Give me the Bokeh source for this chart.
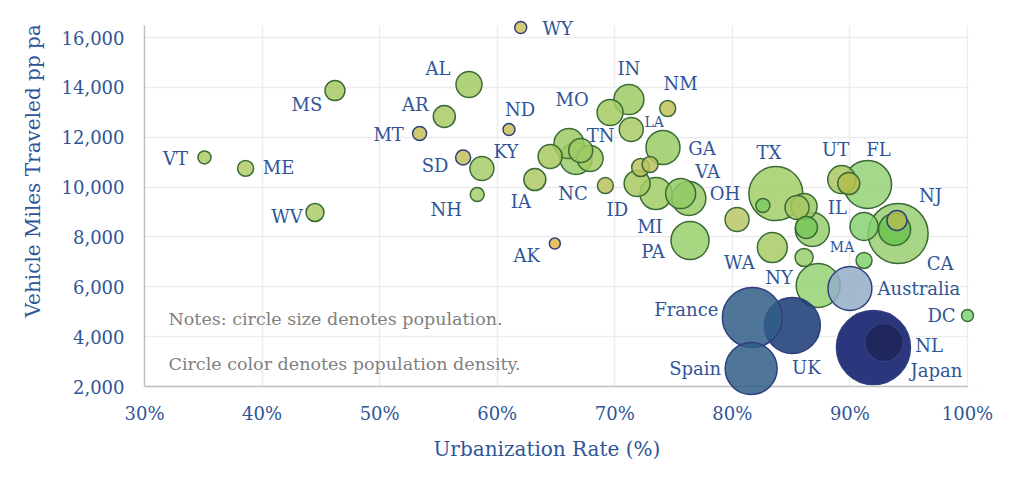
import pandas as pd
from bokeh.plotting import figure
from bokeh.models import (ColumnDataSource, FixedTicker, NumeralTickFormatter,
                          PrintfTickFormatter, BoxAnnotation, Label, Title, Grid)
from bokeh.core.properties import value
from bokeh.embed import file_html
from bokeh.resources import INLINE

# ---------------------------------------------------------------------------
# Data: urbanization rate (%), vehicle miles travelled per person per year,
# population (millions, drives bubble size)
# ---------------------------------------------------------------------------
names = ["VT", "ME", "MS", "WV", "WY", "AL", "AR", "MT", "ND", "SD",
         "KY", "NH", "IA", "AK", "SC", "MN", "NC", "TN", "OK", "ID",
         "MO", "IN", "LA", "NM", "GA", "NE", "KS", "WI", "MI", "VA",
         "OH", "PA", "OR", "TX", "DE", "CO", "MD", "IL", "CT", "WA",
         "HI", "NY", "UT", "AZ", "FL", "MA", "CA", "NJ", "NV", "RI",
         "DC",
         "Japan", "NL", "UK", "France", "Spain", "Australia"]
urban_pct = [35.1, 38.6, 46.2, 44.5, 62.0, 57.6, 55.5, 53.4, 61.0, 57.1,
             58.7, 58.3, 63.2, 64.9, 64.5, 66.1, 66.7, 67.1, 67.9, 69.2,
             69.6, 71.2, 71.4, 74.5, 74.1, 72.2, 73.0, 71.9, 73.5, 75.6,
             76.3, 76.4, 80.4, 83.7, 82.6, 85.5, 86.1, 86.8, 86.3, 83.4,
             86.1, 87.3, 89.3, 89.9, 91.5, 91.2, 94.1, 93.8, 94.0, 91.2,
             100.0,
             92.0, 92.9, 85.1, 81.7, 81.6, 90.0]
vmt_pp = [11190, 10750, 13870, 8980, 16400, 14115, 12830, 12150, 12310, 11185,
          10745, 9700, 10300, 7735, 11225, 11745, 11145, 11465, 11145, 10060,
          12990, 13510, 12310, 13150, 11585, 10785, 10905, 10140, 9740, 9740,
          9540, 7855, 8700, 9740, 9260, 9180, 9220, 8300, 8380, 7575,
          7175, 6050, 10300, 10140, 10100, 8420, 8135, 8300, 8660, 7055,
          4850,
          3565, 3765, 4450, 4770, 2720, 5930]
pop_m = [0.77, 1.30, 2.27, 1.75, 0.63, 4.38, 2.89, 0.93, 0.63, 1.11,
         3.59, 0.93, 2.89, 0.51, 3.59, 6.26, 7.36, 3.59, 4.38, 1.30,
         4.38, 6.26, 3.59, 1.30, 8.57, 1.75, 1.30, 4.38, 7.36, 6.26,
         8.57, 11.31, 3.59, 27.2, 0.93, 3.59, 4.38, 8.57, 2.89, 6.26,
         1.75, 16.3, 5.27, 2.89, 20.3, 5.27, 35.4, 7.36, 2.27, 1.30,
         0.63,
         59.9, 11.3, 29.8, 35.4, 24.8, 16.3]
group = ["state"] * 51 + ["country"] * 6

x_ticks = [30, 40, 50, 60, 70, 80, 90, 100]
y_ticks = [2000, 4000, 6000, 8000, 10000, 12000, 14000, 16000]

# Colours (as they appear on white) encode population density:
# yellow = sparse, green = denser, blues for the international comparisons
shown_colors = ["#b8d47e", "#bcd47f", "#b5d27b", "#b9d47e", "#d6cd72", "#b0d27a",
                "#b6d27c", "#cec870", "#d0ca74", "#cbc973", "#b2d47e", "#b4d680",
                "#bad07b", "#e4c35f", "#b6d07a", "#aed27c", "#a9d480", "#acd27c",
                "#b0d27a", "#c6ca78", "#b3d37b", "#acd27b", "#b8d27c", "#cbcb74",
                "#a9d37c", "#c7cb75", "#c5cb78", "#b5d27b", "#b0d37e", "#a2d27c",
                "#a8d480", "#a9d681", "#c3cf7d", "#b1d47f", "#90d27a", "#b5d07a",
                "#a8d27a", "#a6d684", "#8ccf74", "#b5d27d", "#aad683", "#a5d987",
                "#b8cf79", "#bec868", "#a4d88a", "#9ad787", "#a9d587", "#82cc6a",
                "#bcc66a", "#93d984", "#8ddb86",
                "#2b367c", "#3f4570", "#3b5689", "#4f7599", "#4f7599", "#a3b9d0"]
FILL_ALPHA = 0.85


def under_white(hex_color, alpha):
    """Colour that, drawn at `alpha` over white, shows as `hex_color`."""
    rgb = [int(hex_color[i:i + 2], 16) for i in (1, 3, 5)]
    out = [max(0, min(255, round((c - (1 - alpha) * 255) / alpha))) for c in rgb]
    return "#%02x%02x%02x" % tuple(out)


fill_colors = [under_white(c, FILL_ALPHA) for c in shown_colors]
sparse = {"WY", "MT", "ND", "SD", "AK", "NV"}
line_colors = []
for n, g in zip(names, group):
    if g == "country" or n in sparse:
        line_colors.append("#2f3f7e")
    else:
        line_colors.append("#3b6b35")

# Label placement relative to each bubble (pixels, +x right, +y down)
label_offsets = {
    "VT": (-29, 1), "ME": (33, -1), "MS": (-28, 14), "WV": (-28, 4),
    "WY": (37, 1), "AL": (-31, -16), "AR": (-29, -12), "MT": (-31, 1),
    "ND": (11, -20), "SD": (-28, 8), "KY": (24, -17), "NH": (-31, 15),
    "IA": (-14, 22), "AK": (-28, 12), "TN": (20, -15), "NC": (-3, 35),
    "ID": (12, 24), "MO": (-38, -13), "IN": (0, -31), "NM": (13, -25),
    "GA": (39, 1), "VA": (27, -22), "OH": (36, -5), "MI": (-6, 33),
    "PA": (-37, 11), "TX": (-7, -41), "UT": (-6, -30), "FL": (11, -35),
    "IL": (25, -22), "NJ": (36, -34), "CA": (42, 30), "WA": (-33, 15),
    "NY": (-39, -8), "Australia": (69, 0), "France": (-66, -8),
    "DC": (-26, 0), "NL": (45, 3), "Japan": (63, 23), "UK": (14, 42),
    "Spain": (-56, 0),
}
small_labels = {"LA": (23, -7), "MA": (-22, 21)}

FONT = "DejaVu Serif"
BLUE = "#2F5597"
GRID = "#ececec"
AXIS = "#bfbfbf"

df = pd.DataFrame({"name": names, "x": urban_pct, "y": vmt_pp, "pop": pop_m,
                   "group": group, "fill": fill_colors, "line": line_colors})
df["size"] = [2 * 7.2 * p ** 0.4 for p in df["pop"]]
# biggest bubbles at the back, international points on top of the states
states = df[df["group"] == "state"].sort_values("pop", ascending=False)
countries = df[df["group"] == "country"]
df = pd.concat([states, countries])

# Frame: 30%..100% over 823 px, 2,000..16,000 over 349 px, with a little
# extra room so edge bubbles are not clipped
px_per_x = 823 / 70.0
units_per_py = 14000 / 349.0
x_end = 30 + 836 / px_per_x
y_start = 2000 - 12 * units_per_py
y_end = 2000 + 371 * units_per_py
y_top = 2000 + 361 * units_per_py

p = figure(width=1024, height=492, x_range=(30, x_end), y_range=(y_start, y_end),
           output_backend="svg", toolbar_location=None,
           min_border_left=144, min_border_right=44,
           min_border_top=15, min_border_bottom=94)
p.outline_line_color = None
p.background_fill_color = "white"
p.border_fill_color = "white"

p.xaxis.ticker = FixedTicker(ticks=x_ticks)
p.yaxis.ticker = FixedTicker(ticks=y_ticks)
p.xgrid.ticker = FixedTicker(ticks=x_ticks)
p.ygrid.ticker = FixedTicker(ticks=y_ticks)
p.grid.grid_line_color = GRID
p.grid.grid_line_width = 1.5

p.xaxis.formatter = PrintfTickFormatter(format="%d%%")
p.yaxis.formatter = NumeralTickFormatter(format="0,0")
p.yaxis.bounds = (2000, y_top)
for ax in (p.xaxis, p.yaxis):
    ax.axis_line_color = AXIS
    ax.axis_line_width = 1.5
    ax.major_tick_line_color = None
    ax.minor_tick_line_color = None
    ax.major_label_text_font = FONT
    ax.major_label_text_font_size = "18px"
    ax.major_label_text_color = BLUE
p.xaxis.axis_line_color = None
p.yaxis.major_label_standoff = 14
p.xaxis.major_label_standoff = -2

# white masks keep the grid inside the 30-100% / 2,000-16,000 area
for kw in (dict(top=2000), dict(bottom=y_top)):
    p.add_layout(BoxAnnotation(fill_color="white", fill_alpha=1.0,
                               line_color=None, level="underlay", **kw))
# x axis line at 2,000
p.add_layout(Grid(dimension=1, ticker=FixedTicker(ticks=[2000]),
                  grid_line_color=AXIS, grid_line_width=1.5))
p.add_layout(BoxAnnotation(left=100.06, fill_color="white", fill_alpha=1.0,
                           line_color=None, level="underlay"))

src = ColumnDataSource(df)
p.scatter(x="x", y="y", size="size", source=src, fill_color="fill",
          fill_alpha=FILL_ALPHA, line_color="line", line_width=1.5)


def label_source(offsets):
    rows = df.set_index("name").loc[list(offsets.keys())]
    return ColumnDataSource(dict(
        x=list(rows["x"]), y=list(rows["y"]), text=list(offsets.keys()),
        dx=[o[0] for o in offsets.values()], dy=[o[1] for o in offsets.values()]))


for offs, fsize in ((label_offsets, "18px"), (small_labels, "14px")):
    p.text(x="x", y="y", text="text", x_offset="dx", y_offset="dy",
           source=label_source(offs), text_font=value(FONT),
           text_font_size=fsize, text_color=BLUE, text_align="center",
           text_baseline="middle")

# axis titles
p.add_layout(Title(text="Urbanization Rate (%)", align="left", offset=289,
                   text_font=FONT, text_font_size="20px", text_color=BLUE,
                   text_font_style="normal", standoff=16), "below")
p.add_layout(Title(text="Vehicle Miles Traveled pp pa", align="left", offset=81,
                   text_font=FONT, text_font_size="20px", text_color=BLUE,
                   text_font_style="normal", standoff=28), "left")

# notes
for txt, py in (("Notes: circle size denotes population.", 318),
                ("Circle color denotes population density.", 363)):
    p.add_layout(Label(x=30 + (168 - 144) / px_per_x, y=2000 + (386 - py) * units_per_py,
                       text=txt, text_font=FONT, text_font_size="17.5px",
                       text_color="#7f7f7f", text_align="left",
                       text_baseline="middle"))

open("out.html", "w").write(file_html(p, INLINE))
